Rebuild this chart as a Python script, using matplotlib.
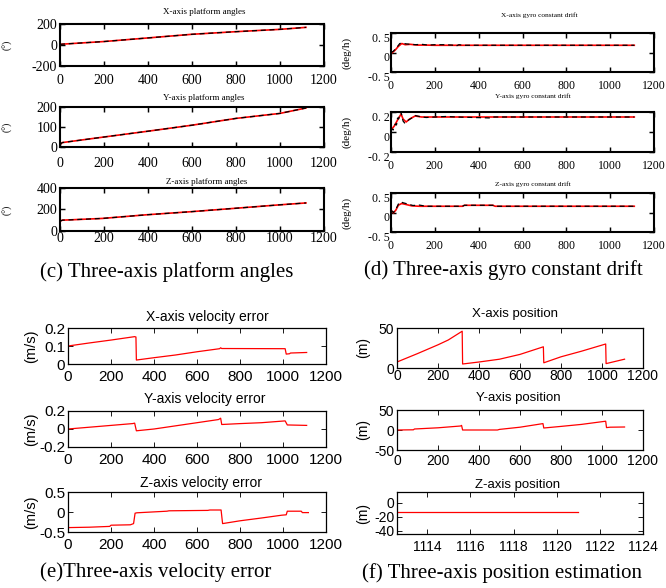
import numpy as np
import matplotlib.pyplot as plt
import matplotlib.transforms as mtransforms

plt.rcParams['axes.unicode_minus'] = False

W, H = 666, 588
SERIF = 'Liberation Serif'
SANS = 'Liberation Sans'

# (c) platform angles
t_ang_x = [0, 10, 200, 398, 600, 800, 1000, 1118]
ang_x = [5, 8, 33, 67, 102, 127, 149, 168]
t_ang_y = [0, 10, 200, 400, 600, 800, 1000, 1118]
ang_y = [12, 22, 50, 79, 109, 143, 168, 195]
t_ang_z = [0, 11, 49, 193, 394, 598, 795, 996, 1118]
ang_z = [91, 101, 104, 117, 151, 180, 211, 243, 261]

# (d) gyro constant drift: red = reference, black dashed = estimate
t_gx = [0, 18, 34, 49, 65, 88, 120, 160, 200, 250, 300, 330, 1110]
gx_red = [-0.03, 0.055, 0.16, 0.23, 0.20, 0.21, 0.19, 0.19, 0.185, 0.185, 0.185, 0.185, 0.185]
t_gx_est = [0, 10, 25, 40, 50, 70, 90, 110, 140, 170, 200, 240, 280, 295, 310, 330, 1110]
gx_est = [0.0, 0.03, 0.12, 0.23, 0.24, 0.22, 0.21, 0.2, 0.21, 0.19, 0.2, 0.2, 0.19, 0.16, 0.2, 0.185, 0.185]

t_gy = [0, 15, 30, 46, 55, 69, 85, 110, 140, 200, 1110]
gy_red = [0.02, 0.06, 0.12, 0.18, 0.13, 0.10, 0.13, 0.16, 0.15, 0.15, 0.15]
t_gy_est = [0, 5, 10, 15, 20, 25, 30, 35, 40, 45, 50, 55, 62, 70, 80, 95, 110, 130, 160,
            200, 250, 300, 460, 470, 500, 1110]
gy_est = [0.01, 0.03, 0.02, 0.06, 0.08, 0.07, 0.14, 0.13, 0.19, 0.2, 0.16, 0.11, 0.09, 0.1,
          0.12, 0.14, 0.165, 0.155, 0.145, 0.15, 0.155, 0.15, 0.14, 0.15, 0.15, 0.15]

t_gz = [0, 11, 22, 34, 49, 65, 95, 130, 326, 335, 465, 475, 1110]
gz_red = [0.06, -0.01, 0.06, 0.19, 0.23, 0.21, 0.17, 0.16, 0.16, 0.185, 0.185, 0.16, 0.16]
t_gz_est = [0, 11, 22, 34, 45, 55, 75, 100, 130, 160, 326, 335, 465, 475, 1110]
gz_est = [0.06, 0.0, 0.08, 0.22, 0.27, 0.25, 0.22, 0.18, 0.19, 0.16, 0.16, 0.185, 0.185, 0.16, 0.16]

# (e) velocity error
t_vx = [0, 100, 200, 310, 316, 318, 400, 500, 600, 705, 710, 715, 1010, 1015, 1030, 1035, 1110]
vx = [0.100, 0.117, 0.133, 0.152, 0.150, 0.022, 0.035, 0.050, 0.068, 0.085, 0.090, 0.086,
      0.085, 0.055, 0.057, 0.061, 0.064]
t_vy = [0, 100, 200, 300, 310, 318, 400, 500, 600, 700, 710, 715, 800, 900, 1010, 1020, 1110]
vy = [0.0, 0.02, 0.04, 0.06, 0.065, -0.02, 0.0, 0.035, 0.07, 0.105, 0.12, 0.05, 0.06, 0.07,
      0.09, 0.045, 0.04]
t_vz = [0, 100, 194, 200, 290, 305, 312, 320, 460, 470, 650, 660, 712, 719, 800, 900, 994,
        1015, 1020, 1085, 1090, 1118]
vz = [-0.39, -0.38, -0.36, -0.33, -0.32, -0.29, -0.03, -0.02, 0.02, 0.03, 0.04, 0.05, 0.05,
      -0.29, -0.22, -0.15, -0.08, -0.07, 0.02, 0.02, -0.015, -0.015]

# (f) position estimation
t_px = [0, 100, 200, 250, 318, 320, 400, 500, 600, 714, 716, 800, 900, 1018, 1020, 1110]
pos_x = [7.5, 18, 29, 35, 46, 5, 7.5, 11, 17, 26.5, 6.5, 14, 21, 30, 5.5, 11]
t_py = [0, 80, 85, 200, 310, 315, 320, 490, 500, 600, 712, 716, 800, 900, 1018, 1022, 1040, 1110]
pos_y = [0, 0.5, 2.5, 5.5, 10, 11.5, 0, 0, 1.5, 7, 16, 5, 9, 14, 22, 6, 7, 7.5]
t_pz = [1112.6, 1121.0]
pos_z = [-13, -13]


def box(l, t, r, b):
    return [l / W, 1 - b / H, (r - l) / W, (b - t) / H]


def style(ax, font, fs, lw, xpad, ypad):
    for s in ax.spines.values():
        s.set_linewidth(lw)
    ax.tick_params(direction='in', top=True, right=True, length=3.5, width=lw * 0.7,
                   labelsize=fs)
    ax.tick_params(axis='x', pad=xpad)
    ax.tick_params(axis='y', pad=ypad)
    for lab in ax.get_xticklabels() + ax.get_yticklabels():
        lab.set_fontfamily(font)


fig = plt.figure(figsize=(W / 100, H / 100), dpi=100)

# ---- (c) platform angles
c_boxes = [(60, 24, 324, 66), (60, 107, 324, 147), (60, 188, 324, 231)]
c_data = [(t_ang_x, ang_x), (t_ang_y, ang_y), (t_ang_z, ang_z)]
c_ylim = [(-200, 200), (0, 200), (0, 400)]
c_yticks = [[-200, 0, 200], [0, 100, 200], [0, 200, 400]]
c_titles = ['X-axis platform angles', 'Y-axis platform angles', 'Z-axis platform angles']
c_tpos = [(204, 12), (204, 98), (207, 182)]
c_xpad = [6, 7, 1]
for bx, (t, v), yl, yt, ti, tp, xp in zip(c_boxes, c_data, c_ylim, c_yticks, c_titles, c_tpos, c_xpad):
    ax = fig.add_axes(box(*bx))
    ax.plot(t, v, color='red', lw=1.2)
    ax.plot(t, v, color='black', lw=0.9, ls=(0, (4, 3)))
    ax.set_xlim(0, 1200)
    ax.set_ylim(*yl)
    ax.set_xticks(range(0, 1201, 200))
    ax.set_yticks(yt)
    style(ax, SERIF, 10, 1.5, xp, 2)
    ax.set_ylabel('(°)', fontfamily=SERIF, fontsize=7)
    ax.yaxis.set_label_coords((13 - bx[0]) / (bx[2] - bx[0]), 0.5)
    fig.text(tp[0] / W, 1 - tp[1] / H, ti, ha='center', va='center', fontfamily=SERIF, fontsize=6.5)

# ---- (d) gyro constant drift
d_boxes = [(391, 33, 654, 72), (391, 112, 654, 152), (391, 193, 654, 232)]
d_data = [(t_gx, gx_red, t_gx_est, gx_est), (t_gy, gy_red, t_gy_est, gy_est),
          (t_gz, gz_red, t_gz_est, gz_est)]
d_ylim = [(-0.5, 0.5), (-0.2, 0.2), (-0.5, 0.5)]
d_ylabels = [['-0. 5', '0', '0. 5'], ['-0. 2', '0', '0. 2'], ['-0. 5', '0', '0. 5']]
d_titles = ['X-axis gyro constant drift', 'Y-axis gyro constant drift', 'Z-axis gyro constant drift']
d_tpos = [(539, 15), (533, 96), (533, 184)]
shift = mtransforms.ScaledTranslation(0, -3 / 72, fig.dpi_scale_trans)
for bx, (t, r, te, e), yl, ylab, ti, tp in zip(d_boxes, d_data, d_ylim, d_ylabels, d_titles, d_tpos):
    ax = fig.add_axes(box(*bx))
    ax.plot(t, r, color='red', lw=1.2)
    ax.plot(te, e, color='black', lw=0.9, ls=(0, (4, 3)))
    ax.set_xlim(0, 1200)
    ax.set_ylim(*yl)
    ax.set_xticks(range(0, 1201, 200))
    ax.set_yticks([yl[0], 0, yl[1]], labels=ylab)
    style(ax, SERIF, 8.5, 1.5, 6, 1)
    for lab in ax.get_yticklabels():
        lab.set_transform(lab.get_transform() + shift)
    ax.set_ylabel('(deg/h)', fontfamily=SERIF, fontsize=8)
    ax.yaxis.set_label_coords((352 - bx[0]) / (bx[2] - bx[0]), 0.5)
    fig.text(tp[0] / W, 1 - tp[1] / H, ti, ha='center', va='center', fontfamily=SERIF, fontsize=5.3)

# ---- (e) velocity error
e_boxes = [(68, 328, 326, 364), (68, 411, 326, 447), (68, 492, 326, 532)]
e_data = [(t_vx, vx), (t_vy, vy), (t_vz, vz)]
e_ylim = [(0, 0.2), (-0.2, 0.2), (-0.5, 0.5)]
e_yticks = [[0, 0.1, 0.2], [-0.2, 0, 0.2], [-0.5, 0, 0.5]]
e_ylabels = [['0', '0.1', '0.2'], ['-0.2', '0', '0.2'], ['-0.5', '0', '0.5']]
e_titles = ['X-axis velocity error', 'Y-axis velocity error', 'Z-axis velocity error']
e_tpos = [(207, 317), (205, 399), (201, 483)]
for bx, (t, v), yl, yt, ylab, ti, tp in zip(e_boxes, e_data, e_ylim, e_yticks, e_ylabels, e_titles, e_tpos):
    ax = fig.add_axes(box(*bx))
    ax.plot(t, v, color='red', lw=0.9)
    ax.set_xlim(0, 1200)
    ax.set_ylim(*yl)
    ax.set_xticks(range(0, 1201, 200))
    ax.set_yticks(yt, labels=ylab)
    style(ax, SANS, 11, 0.9, 4, 2)
    ax.set_ylabel('(m/s)', fontfamily=SANS, fontsize=10.5)
    ax.yaxis.set_label_coords((38 - bx[0]) / (bx[2] - bx[0]), 0.5)
    fig.text(tp[0] / W, 1 - tp[1] / H, ti, ha='center', va='center', fontfamily=SANS, fontsize=10)

# ---- (f) position estimation
f_boxes = [(397, 328, 643, 368), (397, 410, 643, 450), (397, 492, 643, 534)]
f_data = [(t_px, pos_x), (t_py, pos_y), (t_pz, pos_z)]
f_xlim = [(0, 1200), (0, 1200), (1112.6, 1124)]
f_xticks = [range(0, 1201, 200), range(0, 1201, 200), range(1114, 1125, 2)]
f_ylim = [(0, 50), (-50, 50), (-45, 15)]
f_yticks = [[0, 50], [-50, 0, 50], [-40, -20, 0]]
f_titles = ['X-axis position', 'Y-axis position', 'Z-axis position']
f_tpos = [(515, 314), (518, 398), (518, 485)]
f_xpad = [0.5, 3, 4]
for bx, (t, v), xl, xt, yl, yt, ti, tp, xp in zip(f_boxes, f_data, f_xlim, f_xticks, f_ylim,
                                                  f_yticks, f_titles, f_tpos, f_xpad):
    ax = fig.add_axes(box(*bx))
    ax.plot(t, v, color='red', lw=0.9)
    ax.set_xlim(*xl)
    ax.set_ylim(*yl)
    ax.set_xticks(list(xt))
    ax.set_yticks(yt)
    style(ax, SANS, 10, 0.9, xp, 2)
    ax.set_ylabel('(m)', fontfamily=SANS, fontsize=10)
    ax.yaxis.set_label_coords((370 - bx[0]) / (bx[2] - bx[0]), 0.5)
    fig.text(tp[0] / W, 1 - tp[1] / H, ti, ha='center', va='center', fontfamily=SANS, fontsize=9.5)

# ---- captions
captions = ['(c) Three-axis platform angles', '(d) Three-axis gyro constant drift',
            '(e)Three-axis velocity error', '(f) Three-axis position estimation']
cap_pos = [(167, 272), (503, 270), (156, 572), (502, 573)]
for txt, (x, y) in zip(captions, cap_pos):
    fig.text(x / W, 1 - y / H, txt, ha='center', va='center', fontfamily=SERIF, fontsize=15)

fig.savefig('out.png', dpi=100)
